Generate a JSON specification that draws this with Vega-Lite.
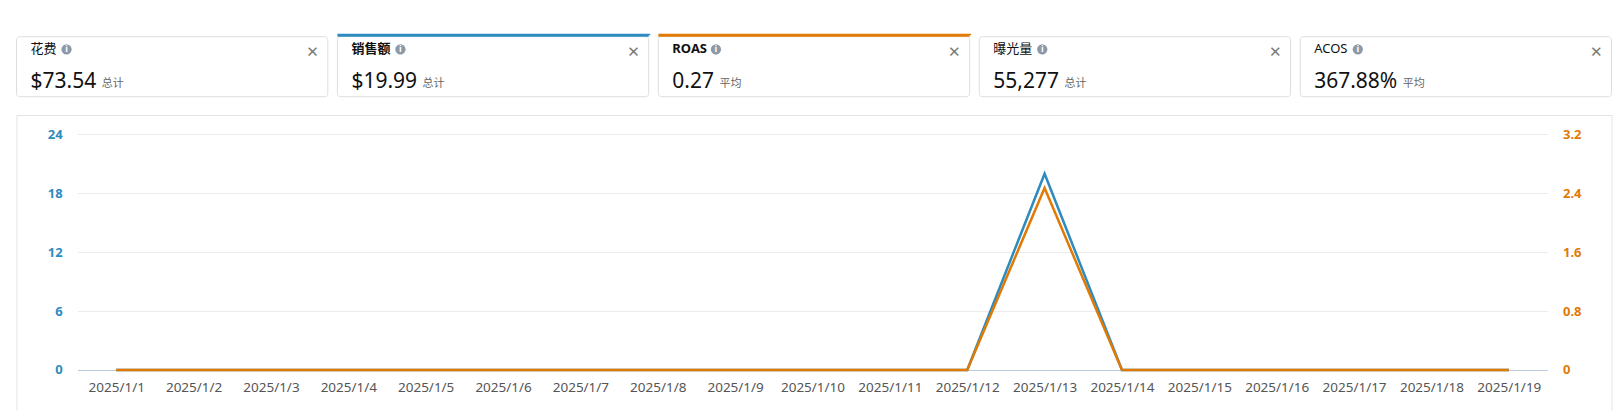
{
  "$schema": "https://vega.github.io/schema/vega-lite/v6.json",
  "autosize": {"type": "pad"},
  "padding": {"left": 15.5, "top": 33.7, "right": 0, "bottom": 0},
  "background": "white",
  "bounds": "flush",
  "spacing": 18.3,
  "config": {"font": "Noto Sans, Noto Sans CJK SC", "view": {"stroke": null}},
  "vconcat": [
    {
      "width": 1595,
      "height": 60,
      "view": {"stroke": null},
      "data": {"values": [
        {"metric": "花费", "value": "$73.54", "agg": "总计"},
        {"metric": "销售额", "value": "$19.99", "agg": "总计"},
        {"metric": "ROAS", "value": "0.27", "agg": "平均"},
        {"metric": "曝光量", "value": "55,277", "agg": "总计"},
        {"metric": "ACOS", "value": "367.88%", "agg": "平均"}
      ]},
      "layer": [
        {
          "mark": {"type": "rect", "fill": "white", "stroke": "#dedede", "strokeWidth": 1, "cornerRadius": 3},
          "encoding": {"x": {"field": "metric", "type": "nominal", "sort": null, "axis": null,
            "scale": {"domain": ["花费", "销售额", "ROAS", "曝光量", "ACOS"], "paddingInner": 0.03, "paddingOuter": 0}}}
        },
        {
          "transform": [{"filter": {"field": "metric", "oneOf": ["销售额", "ROAS"]}}],
          "mark": {"type": "rect", "fill": "transparent", "strokeWidth": 3, "strokeDash": [311.3, 3000], "yOffset": -1.5, "cornerRadius": 0},
          "encoding": {
            "x": {"field": "metric", "type": "nominal", "sort": null, "axis": null},
            "stroke": {"field": "metric", "type": "nominal", "legend": null,
              "scale": {"domain": ["销售额", "ROAS"], "range": ["#2d8bbf", "#e17a05"]}}
          }
        },
        {
          "mark": {"type": "point", "filled": true, "size": 105, "opacity": 1, "color": "#8c99a9", "yOffset": -17.4,
            "xOffset": {"expr": "24 + (test(regexp('^[A-Za-z]+$'), datum.metric) ? 8.4 : 13) * length(datum.metric)"}},
          "encoding": {"x": {"field": "metric", "type": "nominal", "sort": null, "axis": null, "bandPosition": 0}}
        },
        {
          "mark": {"type": "text", "align": "center", "baseline": "middle", "dy": -17.2, "fontSize": 9, "fontWeight": "bold", "color": "white", "text": "i",
            "dx": {"expr": "24 + (test(regexp('^[A-Za-z]+$'), datum.metric) ? 8.4 : 13) * length(datum.metric)"}},
          "encoding": {"x": {"field": "metric", "type": "nominal", "sort": null, "axis": null, "bandPosition": 0}}
        },
        {
          "mark": {"type": "text", "align": "left", "baseline": "alphabetic", "dx": 14, "dy": -14, "fontSize": 13, "color": "#111111",
            "fontWeight": {"expr": "indexof(['销售额','ROAS'], datum.metric) >= 0 ? 'bold' : 'normal'"}},
          "encoding": {
            "x": {"field": "metric", "type": "nominal", "sort": null, "axis": null, "bandPosition": 0},
            "text": {"field": "metric"}
          }
        },
        {
          "mark": {"type": "text", "align": "left", "baseline": "alphabetic", "dx": 14, "dy": 21.6, "fontSize": 21, "color": "#111111"},
          "encoding": {
            "x": {"field": "metric", "type": "nominal", "sort": null, "axis": null, "bandPosition": 0},
            "text": {"field": "value"}
          }
        },
        {
          "mark": {"type": "text", "align": "left", "baseline": "alphabetic", "dy": 20.8, "fontSize": 11, "color": "#666666",
            "dx": {"expr": "19.5 + 12.01*length(datum.value) - 6.4*(length(datum.value) - length(replace(datum.value, regexp('[.,]','g'), ''))) + (indexof(datum.value, '%') >= 0 ? 5.3 : 0)"}},
          "encoding": {
            "x": {"field": "metric", "type": "nominal", "sort": null, "axis": null, "bandPosition": 0},
            "text": {"field": "agg"}
          }
        },
        {
          "mark": {"type": "text", "align": "center", "baseline": "middle", "dx": -15.3, "dy": -15, "fontSize": 15, "fontWeight": "bold", "font": "DejaVu Sans", "color": "#7a7a7a", "text": "✕"},
          "encoding": {"x": {"field": "metric", "type": "nominal", "sort": null, "axis": null, "bandPosition": 1}}
        }
      ]
    },
    {
      "width": 1595,
      "height": 295,
      "view": {"stroke": "#e3e3e3", "strokeWidth": 1, "strokeDash": [1890, 1595, 295], "cornerRadius": 0},
      "data": {"values": [
        {"date": "2025/1/1", "sales": 0, "roas": 0},
        {"date": "2025/1/2", "sales": 0, "roas": 0},
        {"date": "2025/1/3", "sales": 0, "roas": 0},
        {"date": "2025/1/4", "sales": 0, "roas": 0},
        {"date": "2025/1/5", "sales": 0, "roas": 0},
        {"date": "2025/1/6", "sales": 0, "roas": 0},
        {"date": "2025/1/7", "sales": 0, "roas": 0},
        {"date": "2025/1/8", "sales": 0, "roas": 0},
        {"date": "2025/1/9", "sales": 0, "roas": 0},
        {"date": "2025/1/10", "sales": 0, "roas": 0},
        {"date": "2025/1/11", "sales": 0, "roas": 0},
        {"date": "2025/1/12", "sales": 0, "roas": 0},
        {"date": "2025/1/13", "sales": 19.99, "roas": 2.47},
        {"date": "2025/1/14", "sales": 0, "roas": 0},
        {"date": "2025/1/15", "sales": 0, "roas": 0},
        {"date": "2025/1/16", "sales": 0, "roas": 0},
        {"date": "2025/1/17", "sales": 0, "roas": 0},
        {"date": "2025/1/18", "sales": 0, "roas": 0},
        {"date": "2025/1/19", "sales": 0, "roas": 0}
      ]},
      "encoding": {
        "x": {"field": "date", "type": "ordinal", "sort": null,
          "scale": {"type": "point", "padding": 0.5, "range": [61, 1531]},
          "axis": {"orient": "bottom", "offset": -40, "title": null, "labelAngle": 0, "ticks": false, "tickSize": 0,
            "labelPadding": 21.5, "labelBaseline": "alphabetic", "labelColor": "#555555", "labelFontSize": 13.5,
            "labelOverlap": false, "domainColor": "#bccbdb", "domainWidth": 1, "grid": false}}
      },
      "layer": [
        {
          "mark": {"type": "line", "color": "#2d8bbf", "strokeWidth": 2.5},
          "encoding": {"y": {"field": "sales", "type": "quantitative",
            "scale": {"domain": [0, 24], "range": [255, 19.3]},
            "axis": {"orient": "left", "offset": -45.7, "values": [0, 6, 12, 18, 24], "title": null, "domain": false,
              "ticks": false, "tickSize": 0, "labelPadding": 0, "labelColor": "#2d8bbf", "labelFontWeight": "bold",
              "labelFontSize": 13, "grid": true, "gridColor": "#ebebeb", "gridWidth": 1, "format": "d"}}}
        },
        {
          "mark": {"type": "line", "color": "#e17a05", "strokeWidth": 2.5},
          "encoding": {"y": {"field": "roas", "type": "quantitative",
            "scale": {"domain": [0, 3.2], "range": [255, 19.3]},
            "axis": {"orient": "right", "offset": -49, "values": [0, 0.8, 1.6, 2.4, 3.2], "title": null, "domain": false,
              "ticks": false, "tickSize": 0, "labelPadding": 0, "labelColor": "#e17a05", "labelFontWeight": "bold",
              "labelFontSize": 13, "grid": false, "format": "~g"}}}
        }
      ],
      "resolve": {"scale": {"y": "independent"}}
    }
  ]
}
